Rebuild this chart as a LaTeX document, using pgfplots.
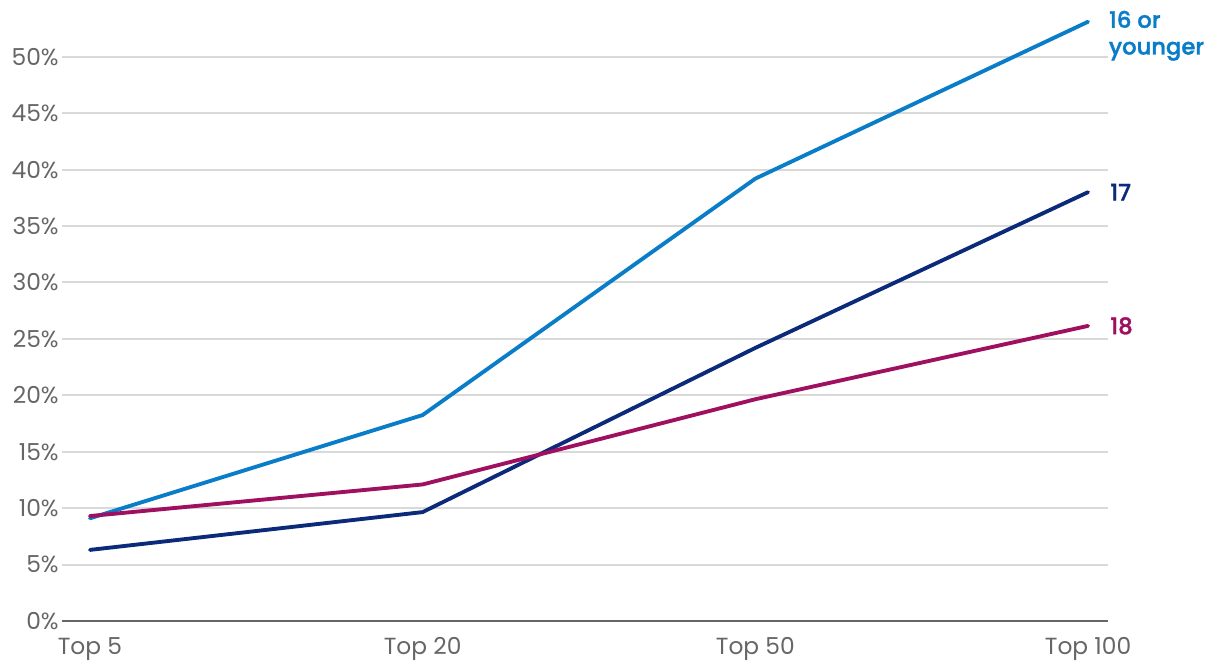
\documentclass[border=0pt]{standalone}
\usepackage{pgfplots}
\pgfplotsset{compat=1.18}
\usepackage{fontspec}
\setmainfont{Poppins}
\newfontfamily\labfont{Poppins Medium}[FakeBold=1.6]
\definecolor{lblue}{HTML}{0A7DC8}
\definecolor{navy}{HTML}{0B2A7A}
\definecolor{mag}{HTML}{A01060}
\definecolor{gridc}{HTML}{D9D9D9}
\definecolor{tickc}{HTML}{666666}
\begin{document}
\begin{tikzpicture}
\useasboundingbox (0,0) rectangle (915pt,502.5pt);
\begin{axis}[
  at={(46.5pt,36.75pt)}, anchor=south west,
  scale only axis, width=784.5pt, height=454.5pt,
  xmin=-0.084, xmax=3.06, ymin=0, ymax=53.7,
  axis line style={draw=none},
  axis x line*=bottom, axis y line*=left,
  xtick={0,1,2,3}, xticklabels={Top 5,Top 20,Top 50,Top 100},
  ytick={0,5,...,50}, yticklabel={\pgfmathprintnumber{\tick}\%},
  /pgf/number format/assume math mode=true,
  tick style={draw=none},
  ymajorgrids, grid style={gridc, line width=1.5pt},
  tick label style={font=\fontsize{17.5pt}{20pt}\selectfont, text=tickc},
  yticklabel style={xshift=1pt},
  xticklabel style={yshift=-9pt},
  clip=false,
  every axis plot/.append style={line width=2.9pt, line join=round, line cap=round, mark=none},
]
\draw[tickc, line width=1.8pt] (axis cs:-0.084,0) -- (axis cs:3.06,0);
\addplot[lblue] coordinates {(0,9.1) (1,18.25) (2,39.2) (3,53.1)};
\addplot[navy] coordinates {(0,6.3) (1,9.65) (2,24.2) (3,38.0)};
\addplot[mag] coordinates {(0,9.3) (1,12.1) (2,19.65) (3,26.15)};
\node[anchor=west, align=left, text=lblue, font=\labfont\fontsize{17pt}{20pt}\selectfont, inner sep=0pt] at ([xshift=15.5pt,yshift=-10.5pt]axis cs:3,53.1) {16 or\\younger};
\node[anchor=west, text=navy, font=\labfont\fontsize{17pt}{20pt}\selectfont, inner sep=0pt] at ([xshift=16.5pt]axis cs:3,38.0) {17};
\node[anchor=west, text=mag, font=\labfont\fontsize{17pt}{20pt}\selectfont, inner sep=0pt] at ([xshift=16.5pt]axis cs:3,26.15) {18};
\end{axis}
\end{tikzpicture}
\end{document}
